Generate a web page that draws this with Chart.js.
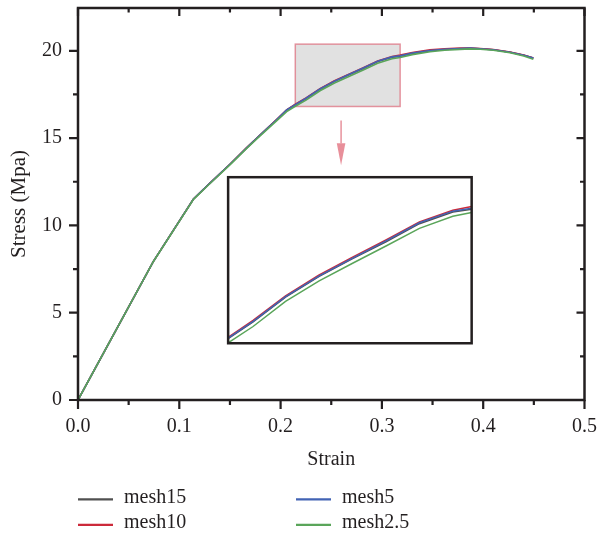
<!DOCTYPE html>
<html><head><meta charset="utf-8">
<script src="https://cdn.jsdelivr.net/npm/chart.js@4.4.1/dist/chart.umd.min.js"></script>
<style>
html,body{margin:0;padding:0;background:#fff;}
#wrap{position:relative;width:599px;height:537px;}
#inset{position:absolute;display:block;}
</style></head><body>
<div id="wrap"><canvas id="main" width="599" height="537"></canvas><canvas id="inset"></canvas></div>
<script>
// ---------- data ----------
const strain = [0, 0.0743, 0.114, 0.1303, 0.15, 0.1665, 0.18, 0.196, 0.206, 0.2145, 0.2251, 0.2389, 0.2532, 0.2674, 0.2816, 0.2958, 0.31, 0.318, 0.33, 0.3475, 0.362, 0.377, 0.387, 0.397, 0.41, 0.4265, 0.44, 0.4495];
const mesh15  = [0, 7.93, 11.51, 12.42, 13.50, 14.44, 15.18, 16.05, 16.60, 16.91, 17.27, 17.80, 18.25, 18.63, 18.99, 19.38, 19.63, 19.69, 19.85, 20.00, 20.07, 20.12, 20.14, 20.12, 20.06, 19.92, 19.74, 19.58];
const mesh10  = [0, 7.93, 11.51, 12.42, 13.50, 14.45, 15.19, 16.06, 16.62, 16.94, 17.30, 17.83, 18.28, 18.66, 19.03, 19.42, 19.67, 19.75, 19.90, 20.05, 20.11, 20.15, 20.16, 20.13, 20.07, 19.93, 19.75, 19.59];
const mesh5   = [0, 7.93, 11.51, 12.42, 13.50, 14.44, 15.18, 16.05, 16.61, 16.92, 17.28, 17.81, 18.26, 18.64, 19.01, 19.40, 19.65, 19.71, 19.87, 20.02, 20.09, 20.13, 20.15, 20.12, 20.06, 19.92, 19.74, 19.58];
const mesh2_5 = [0, 7.92, 11.49, 12.40, 13.47, 14.41, 15.14, 15.99, 16.52, 16.82, 17.17, 17.71, 18.15, 18.53, 18.90, 19.28, 19.54, 19.62, 19.78, 19.94, 20.03, 20.08, 20.11, 20.09, 20.03, 19.89, 19.70, 19.52];
const seriesNames = ['mesh15', 'mesh10', 'mesh5', 'mesh2.5'];
const seriesValues = [mesh15, mesh10, mesh5, mesh2_5];
const xTickValues = [0, 0.1, 0.2, 0.3, 0.4, 0.5];
const xTickLabels = ['0.0', '0.1', '0.2', '0.3', '0.4', '0.5'];
const xMinorValues = [0.05, 0.15, 0.25, 0.35, 0.45];
const yTickValues = [0, 5, 10, 15, 20];
const yTickLabels = ['0', '5', '10', '15', '20'];
const yMinorValues = [2.5, 7.5, 12.5, 17.5];
const xTitle = 'Strain';
const yTitle = 'Stress (Mpa)';
// zoom window (gray box) and inset placement, in data units
const zoomX = [0.2145, 0.318];
const zoomY = [16.81, 20.38];
const insetX = [0.1482, 0.3886];
const insetY = [3.25, 12.76];
const arrowX = 0.2597;
const arrowY = [16.0, 13.45];

// ---------- style ----------
const seriesColors = ['#505050', '#cc2a3a', '#4263b4', '#5aa55a'];
const seriesOrder = [4, 3, 2, 1];
const INK = '#231f20';
const FONT = "'Liberation Serif', 'Times New Roman', serif";
Chart.defaults.font.family = FONT;
Chart.defaults.font.size = 20;
Chart.defaults.color = INK;

function datasets(width) {
  return seriesNames.map((n, i) => ({
    label: n,
    data: strain.map((x, k) => ({x: x, y: seriesValues[i][k]})),
    borderColor: seriesColors[i],
    backgroundColor: seriesColors[i],
    borderWidth: width,
    pointRadius: 0,
    tension: 0,
    fill: false,
    order: seriesOrder[i]
  }));
}

function noPad(s) { s.paddingTop = 0; s.paddingBottom = 0; s.paddingLeft = 0; s.paddingRight = 0; }

const framePlugin = {
  id: 'frame',
  beforeDatasetsDraw(chart) {
    const {ctx, scales: {x, y}} = chart;
    const l = x.getPixelForValue(zoomX[0]), r = x.getPixelForValue(zoomX[1]);
    const t = y.getPixelForValue(zoomY[1]), b = y.getPixelForValue(zoomY[0]);
    ctx.save();
    ctx.fillStyle = '#e1e1e1';
    ctx.fillRect(l, t, r - l, b - t);
    ctx.strokeStyle = 'rgba(222,115,130,0.75)';
    ctx.lineWidth = 1.5;
    ctx.strokeRect(l, t, r - l, b - t);
    ctx.restore();
  },
  afterDatasetsDraw(chart) {
    const {ctx, chartArea: a, scales: {x, y}} = chart;
    ctx.save();
    ctx.strokeStyle = INK;
    ctx.lineWidth = 2.5;
    ctx.lineCap = 'butt';
    ctx.strokeRect(a.left, a.top, a.right - a.left, a.bottom - a.top);
    ctx.lineWidth = 2.2;
    ctx.beginPath();
    const xt = (v, major) => {
      const p = x.getPixelForValue(v);
      ctx.moveTo(p, a.bottom); ctx.lineTo(p, a.bottom + (major ? 9 : 5));
      ctx.moveTo(p, a.top); ctx.lineTo(p, a.top + (major ? 8 : 4.5));
    };
    const yt = (v, major) => {
      const p = y.getPixelForValue(v);
      ctx.moveTo(a.left, p); ctx.lineTo(a.left - (major ? 9 : 5), p);
      ctx.moveTo(a.right, p); ctx.lineTo(a.right - (major ? 8 : 4.5), p);
    };
    xTickValues.forEach(v => xt(v, true));
    xMinorValues.forEach(v => xt(v, false));
    yTickValues.forEach(v => yt(v, true));
    yMinorValues.forEach(v => yt(v, false));
    ctx.stroke();
    // arrow
    const ax = x.getPixelForValue(arrowX);
    const a0 = y.getPixelForValue(arrowY[0]), a1 = y.getPixelForValue(arrowY[1]);
    const headLen = 22, headW = 4.3;
    ctx.strokeStyle = 'rgba(220,95,110,0.85)';
    ctx.lineWidth = 1.2;
    ctx.beginPath(); ctx.moveTo(ax, a0); ctx.lineTo(ax, a1 - headLen); ctx.stroke();
    ctx.fillStyle = 'rgba(224,105,120,0.75)';
    ctx.beginPath();
    ctx.moveTo(ax - headW, a1 - headLen);
    ctx.lineTo(ax + headW, a1 - headLen);
    ctx.lineTo(ax, a1);
    ctx.closePath(); ctx.fill();
    ctx.restore();
  },
  afterDraw(chart) {
    const {ctx} = chart;
    const cols = [78, 296];
    const rows = [497.5, 523];
    ctx.save();
    ctx.font = '20px ' + FONT;
    ctx.fillStyle = INK;
    ctx.textBaseline = 'middle';
    ctx.textAlign = 'left';
    chart.data.datasets.forEach((ds, i) => {
      const cx = cols[Math.floor(i / 2)], cy = rows[i % 2];
      ctx.strokeStyle = ds.borderColor;
      ctx.lineWidth = 2.2;
      ctx.beginPath(); ctx.moveTo(cx, cy + 1.8); ctx.lineTo(cx + 35, cy + 1.8); ctx.stroke();
      ctx.fillText(ds.label, cx + 46, cy);
    });
    ctx.restore();
  }
};

const main = new Chart(document.getElementById('main'), {
  type: 'line',
  data: {datasets: datasets(1.6)},
  options: {
    responsive: false, animation: false, devicePixelRatio: 1,
    layout: {padding: {left: 0, top: 8, right: 14.5, bottom: 65}},
    plugins: {legend: {display: false}, tooltip: {enabled: false}},
    scales: {
      x: {
        type: 'linear', min: 0, max: 0.5,
        grid: {display: false, drawTicks: false}, border: {display: false},
        afterBuildTicks: s => { s.ticks = xTickValues.map(v => ({value: v})); },
        ticks: {padding: 15, autoSkip: false, maxRotation: 0, callback: (v, i) => xTickLabels[i]},
        title: {display: true, text: xTitle, padding: {top: 0, bottom: 0}},
        afterFit: s => { s.height = 72; noPad(s); }
      },
      y: {
        type: 'linear', min: 0, max: 22.45,
        grid: {display: false, drawTicks: false}, border: {display: false},
        afterBuildTicks: s => { s.ticks = yTickValues.map(v => ({value: v})); },
        ticks: {padding: 16, autoSkip: false, callback: (v, i) => yTickLabels[i]},
        title: {display: true, text: yTitle, font: {size: 21}, padding: {top: 7, bottom: 0}},
        afterFit: s => { s.width = 78; noPad(s); }
      }
    }
  },
  plugins: [framePlugin]
});

// ---------- inset (magnified view of the gray window) ----------
const pad = 3;
const L = main.scales.x.getPixelForValue(insetX[0]);
const R = main.scales.x.getPixelForValue(insetX[1]);
const T = main.scales.y.getPixelForValue(insetY[1]);
const B = main.scales.y.getPixelForValue(insetY[0]);
const ic = document.getElementById('inset');
const cl = Math.round(L - pad), ct = Math.round(T - pad);
const cw = Math.round(R + pad) - cl, ch = Math.round(B + pad) - ct;
ic.width = cw; ic.height = ch;
ic.style.left = cl + 'px'; ic.style.top = ct + 'px';
ic.style.width = cw + 'px'; ic.style.height = ch + 'px';
new Chart(ic, {
  type: 'line',
  data: {datasets: datasets(1.5)},
  options: {
    responsive: false, animation: false, devicePixelRatio: 1,
    layout: {padding: {left: L - cl, top: T - ct, right: cl + cw - R, bottom: ct + ch - B}},
    plugins: {legend: {display: false}, tooltip: {enabled: false}},
    scales: {
      x: {type: 'linear', display: false, min: zoomX[0], max: zoomX[1]},
      y: {type: 'linear', display: false, min: zoomY[0], max: zoomY[1]}
    }
  },
  plugins: [{
    id: 'insetFrame',
    beforeDraw(chart) {
      const {ctx, chartArea: a} = chart;
      ctx.save(); ctx.fillStyle = '#fff';
      ctx.fillRect(a.left, a.top, a.right - a.left, a.bottom - a.top); ctx.restore();
    },
    afterDatasetsDraw(chart) {
      const {ctx, chartArea: a} = chart;
      ctx.save(); ctx.strokeStyle = INK; ctx.lineWidth = 2.5;
      ctx.strokeRect(a.left, a.top, a.right - a.left, a.bottom - a.top); ctx.restore();
    }
  }]
});
</script>
</body></html>
